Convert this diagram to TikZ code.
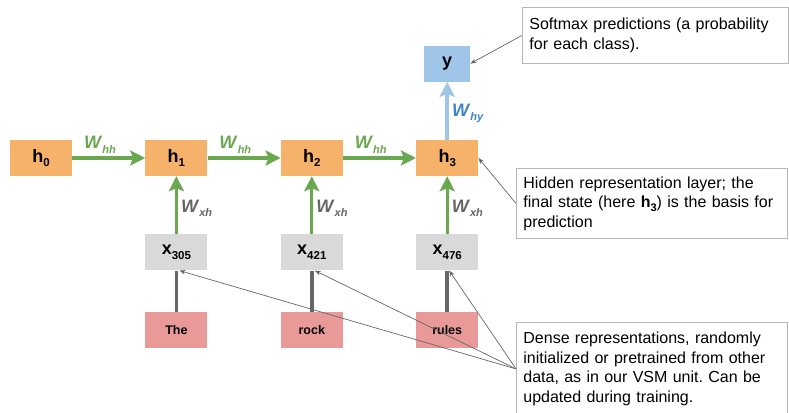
\documentclass[tikz,border=0pt]{standalone}
\usepackage{fontspec}
\setmainfont{Liberation Sans}
\usetikzlibrary{arrows.meta,positioning}

\definecolor{hidorange}{HTML}{F6B26B}
\definecolor{outblue}{HTML}{9FC5E8}
\definecolor{whyblue}{HTML}{3D85C6}
\definecolor{embgrey}{HTML}{D9D9D9}
\definecolor{wordpink}{HTML}{EA9999}
\definecolor{recgreen}{HTML}{6AA84F}
\definecolor{darkgrey}{HTML}{666666}
\definecolor{notegrey}{HTML}{B7B7B7}

\frenchspacing
% lowered subscripts as in the slides
\newcommand{\lowsub}[1]{\raisebox{-4.5pt}{\fontsize{11.5}{11.5}\selectfont\bfseries #1}}
\newcommand{\wmat}[1]{\textbf{\textit{W}}\raisebox{-4.5pt}{\fontsize{11}{11}\selectfont\bfseries\itshape #1}}

\begin{document}
\begin{tikzpicture}[
  x=1pt,y=1pt,
  node distance=58pt and 73pt,
  state/.style={fill=hidorange,minimum width=62pt,minimum height=36pt,inner sep=0pt,font=\fontsize{18}{18}\selectfont\bfseries},
  output/.style={state,fill=outblue,minimum width=46pt},
  embed/.style={state,fill=embgrey},
  word/.style={state,fill=wordpink,font=\fontsize{12.5}{12.5}\selectfont\bfseries},
  recur/.style={-{Stealth[length=15pt,width=15pt,inset=3pt]},line width=3.2pt,recgreen},
  toout/.style={-{Stealth[length=15pt,width=15pt,inset=3pt]},line width=3.6pt,outblue},
  lookup/.style={line width=3.6pt,darkgrey},
  wlab/.style={font=\fontsize{18}{18}\selectfont,inner sep=3pt},
  note/.style={draw=notegrey,line width=0.8pt,fill=white,anchor=north west,align=left,inner xsep=7pt,font=\fontsize{16}{19.5}\selectfont},
  pointer/.style={-{Stealth[length=6pt,width=4.5pt]},line width=0.7pt,darkgrey}
]
\useasboundingbox (0,0) rectangle (789,412);

% hidden states
\node[state] (h0) at (41,254) {h\lowsub{0}};
\node[state,right=of h0] (h1) {h\lowsub{1}};
\node[state,right=of h1] (h2) {h\lowsub{2}};
\node[state,right=of h2] (h3) {h\lowsub{3}};
\node[output,above=of h3] (y) {y};

% embeddings and words
\node[embed,below=of h1] (x305) {x\lowsub{305}};
\node[embed,below=of h2] (x421) {x\lowsub{421}};
\node[embed,below=of h3] (x476) {x\lowsub{476}};
\node[word,below=41pt of x305] (the) {The};
\node[word,below=41pt of x421] (rock) {rock};
\node[word,below=41pt of x476] (rules) {rules};

\draw[lookup] (the) -- (x305);
\draw[lookup] (rock) -- (x421);
\draw[lookup] (rules) -- (x476);

\draw[recur] (h0) -- node[wlab,above,pos=0.38,text=recgreen] {\wmat{hh}} (h1);
\draw[recur] (h1) -- node[wlab,above,pos=0.38,text=recgreen] {\wmat{hh}} (h2);
\draw[recur] (h2) -- node[wlab,above,pos=0.38,text=recgreen] {\wmat{hh}} (h3);
\draw[recur] (x305) -- node[wlab,right,pos=0.45,text=darkgrey] {\wmat{xh}} (h1);
\draw[recur] (x421) -- node[wlab,right,pos=0.45,text=darkgrey] {\wmat{xh}} (h2);
\draw[recur] (x476) -- node[wlab,right,pos=0.45,text=darkgrey] {\wmat{xh}} (h3);
\draw[toout] (h3) -- node[wlab,right,pos=0.45,text=whyblue] {\wmat{hy}} (y);

% callouts
\node[note,text width=252pt,minimum height=56pt] (softmax) at (522,405)
  {Softmax predictions (a probability\\for each class).};
\node[note,text width=257pt,minimum height=70pt] (hidnote) at (516,244)
  {Hidden representation layer; the\\final state (here \textbf{h}\raisebox{-3.5pt}{\fontsize{11}{11}\selectfont\bfseries 3}) is the basis for\\prediction};
\node[note,text width=257pt,minimum height=93pt] (dense) at (516,90)
  {Dense representations, randomly\\initialized or pretrained from other\\data, as in our VSM unit. Can be\\updated during training.};

\draw[pointer] (softmax.west) -- (y.east);
\draw[pointer] (hidnote.west) -- (h3.east);
\draw[pointer] (dense.west) -- ([xshift=3pt]x305.south);
\draw[pointer] (dense.west) -- ([xshift=3pt]x421.south);
\draw[pointer] (dense.west) -- ([xshift=2pt]x476.south);
\end{tikzpicture}
\end{document}
